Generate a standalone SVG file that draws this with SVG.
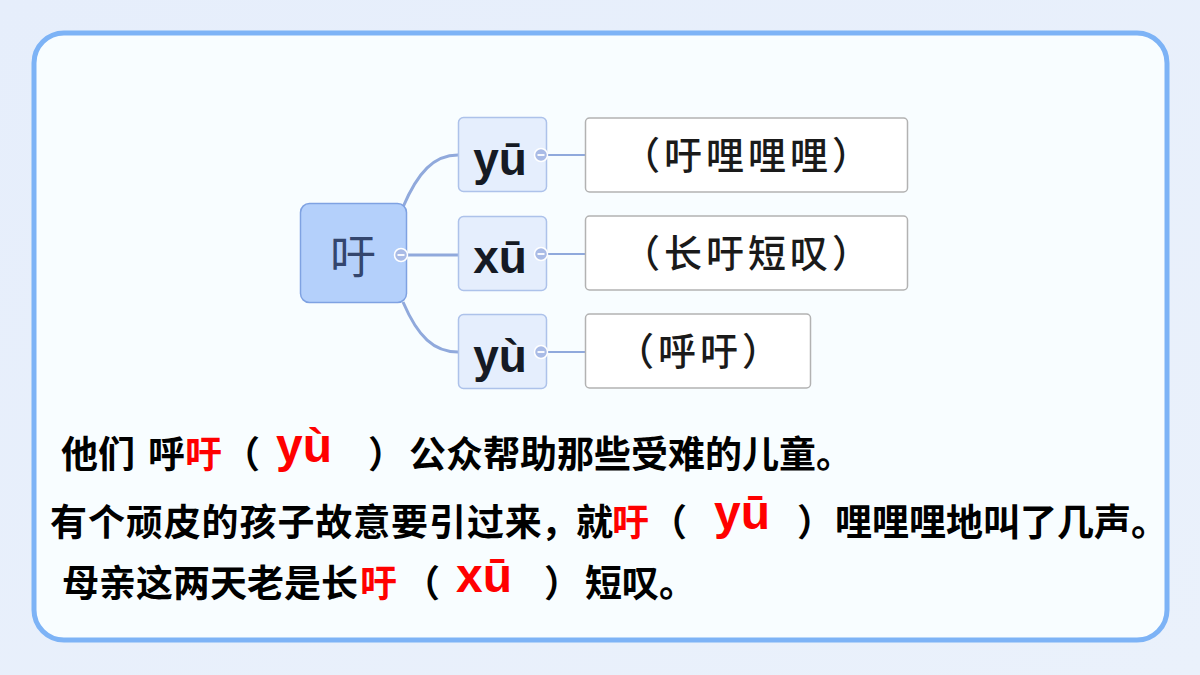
<svg xmlns="http://www.w3.org/2000/svg" width="1200" height="675" viewBox="0 0 1200 675">
  <defs>
    <linearGradient id="bg" x1="0" y1="0" x2="1" y2="1">
      <stop offset="0" stop-color="#e6eefb"/>
      <stop offset="1" stop-color="#eaf1fb"/>
    </linearGradient>
    <style>
      .cjk { font-family: "Noto Sans CJK SC", "Noto Sans", sans-serif; }
      .sent { font-family: "Noto Sans CJK SC", sans-serif; font-size: 37px; font-weight: 700; fill: #000; }
      .red { fill: #ff0000; }
      .py { font-family: "Liberation Sans", Arial, sans-serif; font-weight: 700; font-size: 48px; fill: #ff0000; }
      .cpy { font-family: "Liberation Sans", Arial, sans-serif; font-weight: 700; font-size: 46px; fill: #151a24; text-anchor: middle; }
      .box { fill: #ffffff; stroke: #b2b2b2; stroke-width: 1.5; }
      .child { fill: #e5eefd; stroke: #adc2ea; stroke-width: 1.5; }
      .btxt { font-family: "Noto Sans CJK SC", sans-serif; font-size: 38px; font-weight: 500; fill: #1a1a1a; text-anchor: middle; letter-spacing: 4px; }
      .conn { fill: none; stroke: #90a9dc; stroke-width: 3; }
      .conn2 { fill: none; stroke: #90a9dc; stroke-width: 2; }
      .tog { fill: #a9bbe6; stroke: #ffffff; stroke-width: 1.5; }
      .togm { stroke: #ffffff; stroke-width: 1.8; }
    </style>
  </defs>

  <rect x="0" y="0" width="1200" height="675" fill="url(#bg)"/>
  <rect x="34" y="33" width="1133" height="607" rx="30" ry="30" fill="#f8fdff" stroke="#7db3f6" stroke-width="5"/>

  <g id="connectors">
    <path class="conn" d="M403,207 C418,172 434,155 458,155"/>
    <path class="conn" d="M401,255 H458"/>
    <path class="conn" d="M403,302 C418,337 434,352 458,352"/>
    <path class="conn2" d="M541,155 H585"/>
    <path class="conn2" d="M541,254 H585"/>
    <path class="conn2" d="M541,352 H585"/>
  </g>

  <g id="node-root">
    <rect x="300.5" y="203.5" width="106" height="99" rx="9" fill="#b4d0fb" stroke="#7fa2e2" stroke-width="1.5"/>
    <text class="cjk" x="353" y="273" font-size="46" fill="#34466e" text-anchor="middle">吁</text>
    <circle class="tog" cx="401" cy="255" r="6.5"/>
    <line class="togm" x1="397.5" y1="255" x2="404.5" y2="255"/>
  </g>

  <g id="node-yu1">
    <rect class="child" x="458.5" y="117.5" width="88" height="74" rx="5"/>
    <text class="cpy" x="500" y="175">yū</text>
    <circle class="tog" cx="541" cy="155" r="6.5"/>
    <line class="togm" x1="537.5" y1="155" x2="544.5" y2="155"/>
  </g>
  <g id="node-xu">
    <rect class="child" x="458.5" y="216.5" width="88" height="74" rx="5"/>
    <text class="cpy" x="500" y="273">xū</text>
    <circle class="tog" cx="541" cy="254" r="6.5"/>
    <line class="togm" x1="537.5" y1="254" x2="544.5" y2="254"/>
  </g>
  <g id="node-yu4">
    <rect class="child" x="458.5" y="314.5" width="88" height="74" rx="5"/>
    <text class="cpy" x="500" y="372">yù</text>
    <circle class="tog" cx="541" cy="352" r="6.5"/>
    <line class="togm" x1="537.5" y1="352" x2="544.5" y2="352"/>
  </g>

  <g id="box-1">
    <rect class="box" x="585.5" y="118" width="322" height="74" rx="4"/>
    <text class="btxt" x="748" y="169">（吁哩哩哩）</text>
  </g>
  <g id="box-2">
    <rect class="box" x="585.5" y="216" width="322" height="74" rx="4"/>
    <text class="btxt" x="748" y="267">（长吁短叹）</text>
  </g>
  <g id="box-3">
    <rect class="box" x="585.5" y="314" width="225" height="74" rx="4"/>
    <text class="btxt" x="700" y="365">（呼吁）</text>
  </g>

  <g id="sentences">
    <text class="sent" x="61" y="468">他们</text>
    <text class="sent" x="148" y="468">呼</text>
    <text class="sent red" x="185" y="468">吁</text>
    <text class="sent" x="223" y="468">（</text>
    <text class="py" x="276" y="462">yù</text>
    <text class="sent" x="368" y="468">）</text>
    <text class="sent" x="409" y="468">公众帮助那些受难的儿童。</text>

    <text class="sent" x="50" y="536" letter-spacing="0.9">有个顽皮的孩子故意要引过来</text>
    <text class="sent" x="541" y="536">，</text>
    <text class="sent" x="576" y="536">就</text>
    <text class="sent red" x="612" y="536">吁</text>
    <text class="sent" x="650" y="536">（</text>
    <text class="py" x="714" y="529">yū</text>
    <text class="sent" x="797" y="536">）</text>
    <text class="sent" x="835" y="536">哩哩哩地叫了几声。</text>

    <text class="sent" x="62" y="597">母亲这两天老是长</text>
    <text class="sent red" x="360" y="597">吁</text>
    <text class="sent" x="403" y="597">（</text>
    <text class="py" x="456" y="592">xū</text>
    <text class="sent" x="544" y="597">）</text>
    <text class="sent" x="585" y="597">短叹。</text>
  </g>
</svg>
